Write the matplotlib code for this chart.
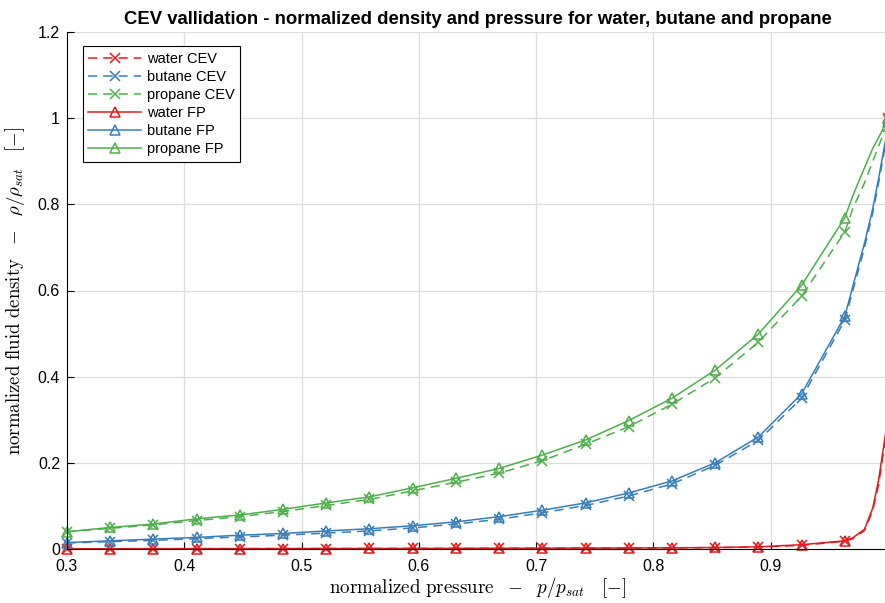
import matplotlib
matplotlib.use("Agg")
import matplotlib.pyplot as plt
import numpy as np

plt.rcParams['font.family'] = ['Liberation Sans', 'DejaVu Sans']
plt.rcParams['mathtext.fontset'] = 'cm'

# normalized pressure p/p_sat (marker points, then extra points near saturation)
p_marker = [0.3, 0.3368, 0.3737, 0.4105, 0.4474, 0.4842, 0.5211, 0.5579, 0.5947, 0.6316,
            0.6684, 0.7053, 0.7421, 0.7789, 0.8158, 0.8526, 0.8895, 0.9263, 0.9632, 1.0]
p_extra = [0.97, 0.98, 0.987, 0.992, 0.9986]

# normalized density rho/rho_sat at p_marker
water_cev = [0.0005, 0.0006, 0.0007, 0.0008, 0.0009, 0.0010, 0.0011, 0.0012, 0.0013, 0.0014,
             0.0016, 0.0018, 0.0020, 0.0022, 0.0026, 0.0032, 0.0045, 0.0085, 0.018, 1.0]
butane_cev = [0.014, 0.017, 0.020, 0.024, 0.028, 0.032, 0.037, 0.042, 0.049, 0.058,
              0.069, 0.084, 0.101, 0.123, 0.151, 0.194, 0.252, 0.350, 0.531, 0.98]
propane_cev = [0.040, 0.048, 0.056, 0.066, 0.075, 0.087, 0.101, 0.115, 0.135, 0.155,
               0.176, 0.205, 0.243, 0.284, 0.336, 0.397, 0.480, 0.587, 0.736, 0.995]
water_fp = [0.0005, 0.0006, 0.0007, 0.0008, 0.0009, 0.0010, 0.0011, 0.0012, 0.0013, 0.0015,
            0.0017, 0.0019, 0.0021, 0.0024, 0.0028, 0.0035, 0.005, 0.010, 0.019, 1.0]
butane_fp = [0.015, 0.019, 0.023, 0.027, 0.032, 0.036, 0.042, 0.047, 0.054, 0.063,
             0.075, 0.090, 0.107, 0.130, 0.158, 0.200, 0.260, 0.360, 0.540, 0.99]
propane_fp = [0.040, 0.050, 0.058, 0.070, 0.079, 0.092, 0.107, 0.121, 0.142, 0.164,
              0.187, 0.218, 0.253, 0.298, 0.350, 0.415, 0.499, 0.612, 0.769, 1.0]

# values at p_extra
water_cev_x = [0.024, 0.043, 0.090, 0.15, 0.27]
butane_cev_x = [0.60, 0.70, 0.78, 0.85, 0.95]
propane_cev_x = [0.79, 0.85, 0.90, 0.935, 0.98]
water_fp_x = [0.026, 0.046, 0.095, 0.16, 0.28]
butane_fp_x = [0.61, 0.71, 0.79, 0.86, 0.96]
propane_fp_x = [0.82, 0.885, 0.93, 0.955, 0.99]

red, blue, green = '#e41a1c', '#377eb8', '#4daf4a'


def merged(ym, yx):
    x = np.array(p_marker + p_extra)
    y = np.array(ym + yx)
    order = np.argsort(x)
    marks = [int(np.where(order == i)[0][0]) for i in range(len(p_marker))]
    return x[order], y[order], marks


fig = plt.figure(figsize=(8.85, 6.03), dpi=100)
ax = fig.add_axes([67 / 885, 54 / 603, 821 / 885, 517 / 603])

series = [
    (water_cev, water_cev_x, red, '--', 'x', 'water CEV'),
    (butane_cev, butane_cev_x, blue, '--', 'x', 'butane CEV'),
    (propane_cev, propane_cev_x, green, '--', 'x', 'propane CEV'),
    (water_fp, water_fp_x, red, '-', '^', 'water FP'),
    (butane_fp, butane_fp_x, blue, '-', '^', 'butane FP'),
    (propane_fp, propane_fp_x, green, '-', '^', 'propane FP'),
]
for ym, yx, c, ls, mk, lab in series:
    x, y, marks = merged(ym, yx)
    ax.plot(x, y, color=c, ls=ls, lw=1.1, marker=mk, markevery=marks, markersize=6.5,
            markerfacecolor='none', markeredgecolor=c, markeredgewidth=1.1,
            dashes=(6, 4) if ls == '--' else (None, None), label=lab, clip_on=False)

ax.set_xlim(0.3, 1.0)
ax.set_ylim(0, 1.2)
ax.set_xticks([0.3, 0.4, 0.5, 0.6, 0.7, 0.8, 0.9, 1.0])
ax.set_xticklabels(['0.3', '0.4', '0.5', '0.6', '0.7', '0.8', '0.9', '1'])
ax.set_yticks([0, 0.2, 0.4, 0.6, 0.8, 1.0, 1.2])
ax.set_yticklabels(['0', '0.2', '0.4', '0.6', '0.8', '1', '1.2'])
ax.tick_params(direction='in', length=5, labelsize=11.5, width=0.8)
ax.tick_params(axis='x', pad=7)
ax.tick_params(axis='y', pad=5)
ax.grid(True, color='#dedede', lw=0.9)
ax.set_axisbelow(True)
for s in ['top', 'right']:
    ax.spines[s].set_visible(False)
for s in ['left', 'bottom']:
    ax.spines[s].set_linewidth(0.8)

ax.set_title('CEV vallidation - normalized density and pressure for water, butane and propane',
             fontsize=13.3, fontweight='bold', pad=6)
ax.set_xlabel(r'$\mathrm{normalized\ pressure}\ \ -\ \ p/p_{sat}\ \ \ [-]$', fontsize=13.7, labelpad=1)
ax.set_ylabel(r'$\mathrm{normalized\ fluid\ density}\ \ -\ \ \rho/\rho_{sat}\ \ \ [-]$', fontsize=13.5, labelpad=8)

leg = ax.legend(loc='upper left', bbox_to_anchor=(0.019, 0.973), fontsize=10.5, frameon=True,
                fancybox=False, edgecolor='black', framealpha=1, handlelength=3.6,
                borderpad=0.4, labelspacing=0.28, handletextpad=0.4, borderaxespad=0)
leg.get_frame().set_linewidth(0.8)

fig.savefig('out.png', dpi=100)
